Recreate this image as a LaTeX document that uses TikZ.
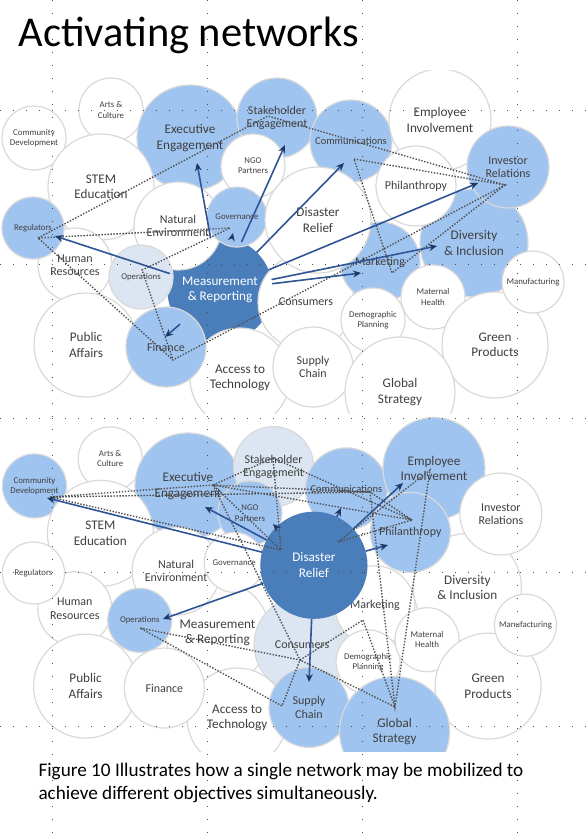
\documentclass[tikz,border=0pt]{standalone}
\usepackage{fontspec}
\setmainfont{Carlito}
\usetikzlibrary{arrows.meta}
\definecolor{cBlu}{RGB}{160,196,240}
\definecolor{cPal}{RGB}{220,230,242}
\definecolor{cDrk}{RGB}{74,126,187}
\definecolor{cTxt}{RGB}{64,64,64}
\definecolor{cRim}{RGB}{217,217,217}
\definecolor{cArr}{RGB}{47,85,151}
\definecolor{cTip}{RGB}{31,56,100}
\definecolor{cDot}{RGB}{80,80,80}

% name/x/y/radius/size/fill above/fill below/label
\def\netlist{%
 mr/220/290/52/big/drk/wht/Measurement\\\& Reporting,
 cd/34/138/32/sml/wht/blu/Community\\Development,
 ac/111/110/32/sml/wht/wht/Arts \&\\Culture,
 ex/190/138/53/big/blu/blu/Executive\\Engagement,
 st/101/187/53/big/wht/wht/STEM\\Education,
 sk/277/118/40/mid/blu/pal/Stakeholder\\Engagement,
 ngo/253/166/32/sml/wht/blu/NGO\\Partners,
 co/351/141/41/cms/blu/blu/Communications,
 ei/440/120/51/big/wht/blu/Employee\\Involvement,
 di/474/243/54/big/blu/wht/Diversity\\\& Inclusion,
 ir/508/167/41/mid/blu/wht/Investor\\Relations,
 ph/416/186/40/mid/wht/blu/Philanthropy,
 ne/178/226/44/mid/wht/wht/Natural\\Environment,
 go/237/217/30/sml/blu/wht/Governance,
 hr/75/265/37/mid/wht/wht/Human\\Resources,
 rg/33/228/31/sml/blu/wht/Regulators,
 op/141/277/32/sml/pal/blu/Operations,
 pa/86/345/52/big/wht/wht/Public\\Affairs,
 at/240/378/50/big/wht/wht/Access to\\Technology,
 fi/166/347/40/mid/blu/wht/Finance,
 cn/306/302/48/mid/wht/pal/Consumers,
 mk/380/262/40/mid/blu/wht/Marketing,
 dp/373/320/32/sml/wht/wht/Demographic\\Planning,
 mh/433/297/32/sml/wht/wht/Maternal\\Health,
 sc/313/367/40/mid/wht/blu/Supply\\Chain,
 gp/495/345/53/big/wht/wht/Green\\Products,
 gs/400/392/55/big/wht/blu/Global\\Strategy,
 mf/533/282/31/sml/wht/wht/Manufacturing,
 dr/318/220/53/big/wht/drk/Disaster\\Relief}

\begin{document}
\begin{tikzpicture}[
  x=1pt, y=-1pt,
  bub/.style   = {circle, draw=cRim, line width=1.2pt, inner sep=0pt,
                  align=center, text=cTxt},
  wht/.style   = {fill=white},
  blu/.style   = {fill=cBlu},
  pal/.style   = {fill=cPal},
  drk/.style   = {fill=cDrk, draw=cDrk, text=white},
  big/.style   = {font=\fontsize{13.2}{15.5}\selectfont},
  mid/.style   = {font=\fontsize{12}{13.3}\selectfont},
  cms/.style   = {font=\fontsize{10.5}{12}\selectfont},
  sml/.style   = {font=\fontsize{8.8}{10.3}\selectfont},
  link/.style  = {cArr, line width=1.6pt,
                  -{Stealth[length=8pt, width=7pt, color=cTip]}},
  dots/.style  = {cDot, line width=1.4pt, dash pattern=on 1.4pt off 1.6pt},
  guide/.style = {black!70, line width=1pt, dash pattern=on 1pt off 12pt}
]
\useasboundingbox (0,0) rectangle (587,833);

\node[anchor=base west, font=\fontsize{42.5}{50}\selectfont] (title) at (15,46) {Activating networks};

% ------------------------------------------- oben: Measurement & Reporting --
\begin{scope}
  \clip (0,70) rectangle (587,413);
  \foreach \n/\x/\y/\r/\fs/\fa/\fb/\t in \netlist
    \node[bub, \fs, \fa, minimum size=\r*2pt] (a\n) at (\x,\y) {\t};
\end{scope}

% ------------------------------------------------- unten: Disaster Relief --
\begin{scope}
  \clip (0,416) rectangle (587,751);
  \begin{scope}[shift={(1,352.5)}, xscale=0.984, yscale=0.967]
    \foreach \n/\x/\y/\r/\fs/\fa/\fb/\t in \netlist
      \node[bub, \fs, \fb, minimum size=\r*2pt] (b\n) at (\x,\y) {\t};
  \end{scope}
\end{scope}

% Pfeilspitzen und Knickpunkte, oben
\coordinate (ta-ex) at (197,163);
\coordinate (ta-go) at (233,233);
\coordinate (ta-sk) at (285,145);
\coordinate (ta-co) at (344,163);
\coordinate (ta-ir) at (478,183);
\coordinate (ta-di) at (437,246);
\coordinate (ta-mk) at (361,273);
\coordinate (ta-rg) at (55,236);
\coordinate (ta-fi) at (165,337);

\coordinate (tv-rg) at (38,238);
\coordinate (tv-sk) at (268,116);
\coordinate (tv-ir) at (505,185);
\coordinate (tv-go) at (230,228);
\coordinate (tv-op) at (142,270);
\coordinate (tv-fi) at (173,360);
\coordinate (tv-co) at (354,159);
\coordinate (tv-mk) at (392,273);

\draw[dots] (tv-rg) -- (tv-sk) -- (tv-ir) -- (tv-fi) -- (tv-rg) -- (tv-go) -- (tv-op) -- (tv-fi);
\draw[dots] (tv-co) -- (tv-ir) -- (tv-mk) -- (tv-co);
\foreach \p in {ex,go,sk,co,ir,di,mk,rg,fi}
  \draw[link] (amr) -- (ta-\p);

% Pfeilspitzen und Knickpunkte, unten
\coordinate (ba-cd) at (47,498);
\coordinate (ba-ex) at (205,507);
\coordinate (ba-ngo) at (273,524);
\coordinate (ba-co) at (341,508);
\coordinate (ba-ei) at (403,483);
\coordinate (ba-ph) at (388,545);
\coordinate (ba-op) at (163,619);
\coordinate (ba-sc) at (309,682);

\coordinate (bv-cd) at (50,497);
\coordinate (bv-ex) at (213,485);
\coordinate (bv-sk) at (273,458);
\coordinate (bv-co) at (370,492);
\coordinate (bv-ph) at (412,520);
\coordinate (bv-ei) at (430,470);
\coordinate (bv-d1) at (338,542);
\coordinate (bv-d2) at (281,550);
\coordinate (bv-op) at (140,628);
\coordinate (bv-cn) at (300,660);
\coordinate (bv-mk) at (363,620);
\coordinate (bv-sc) at (282,706);
\coordinate (bv-gs) at (395,707);

\draw[dots] (bv-cd) -- (bv-ex) -- (bv-d2) -- (bv-cd) -- (bv-co) -- (bv-ex) -- (bv-ph);
\draw[dots] (bv-ex) -- (bv-sk) -- (bv-d2);
\draw[dots] (bv-sk) -- (bv-ph) -- (bv-d1) -- (bv-ei) -- (bv-gs) -- (bv-co) -- (bv-ph);
\draw[dots] (bv-ex) -- (bv-cn) -- (bv-op) -- (bv-sc) -- (bv-cn) -- (bv-mk) -- (bv-gs) -- (bv-cn);
\foreach \p in {cd,ex,ngo,co,ei,ph,op,sc}
  \draw[link] (bdr) -- (ba-\p);

% ------------------------------------------------------- Hilfslinien --
\foreach \gx in {52,207,362,517}
  \draw[guide] (\gx,0) -- (\gx,833);
\foreach \gy in {110,264,418,572,726}
  \draw[guide] (0,\gy) -- (587,\gy);

\node[anchor=north west, align=left, font=\fontsize{19.2}{23}\selectfont] (caption) at (35,760)
  {Figure 10 Illustrates how a single network may be mobilized to\\achieve different objectives simultaneously.};

\end{tikzpicture}
\end{document}
